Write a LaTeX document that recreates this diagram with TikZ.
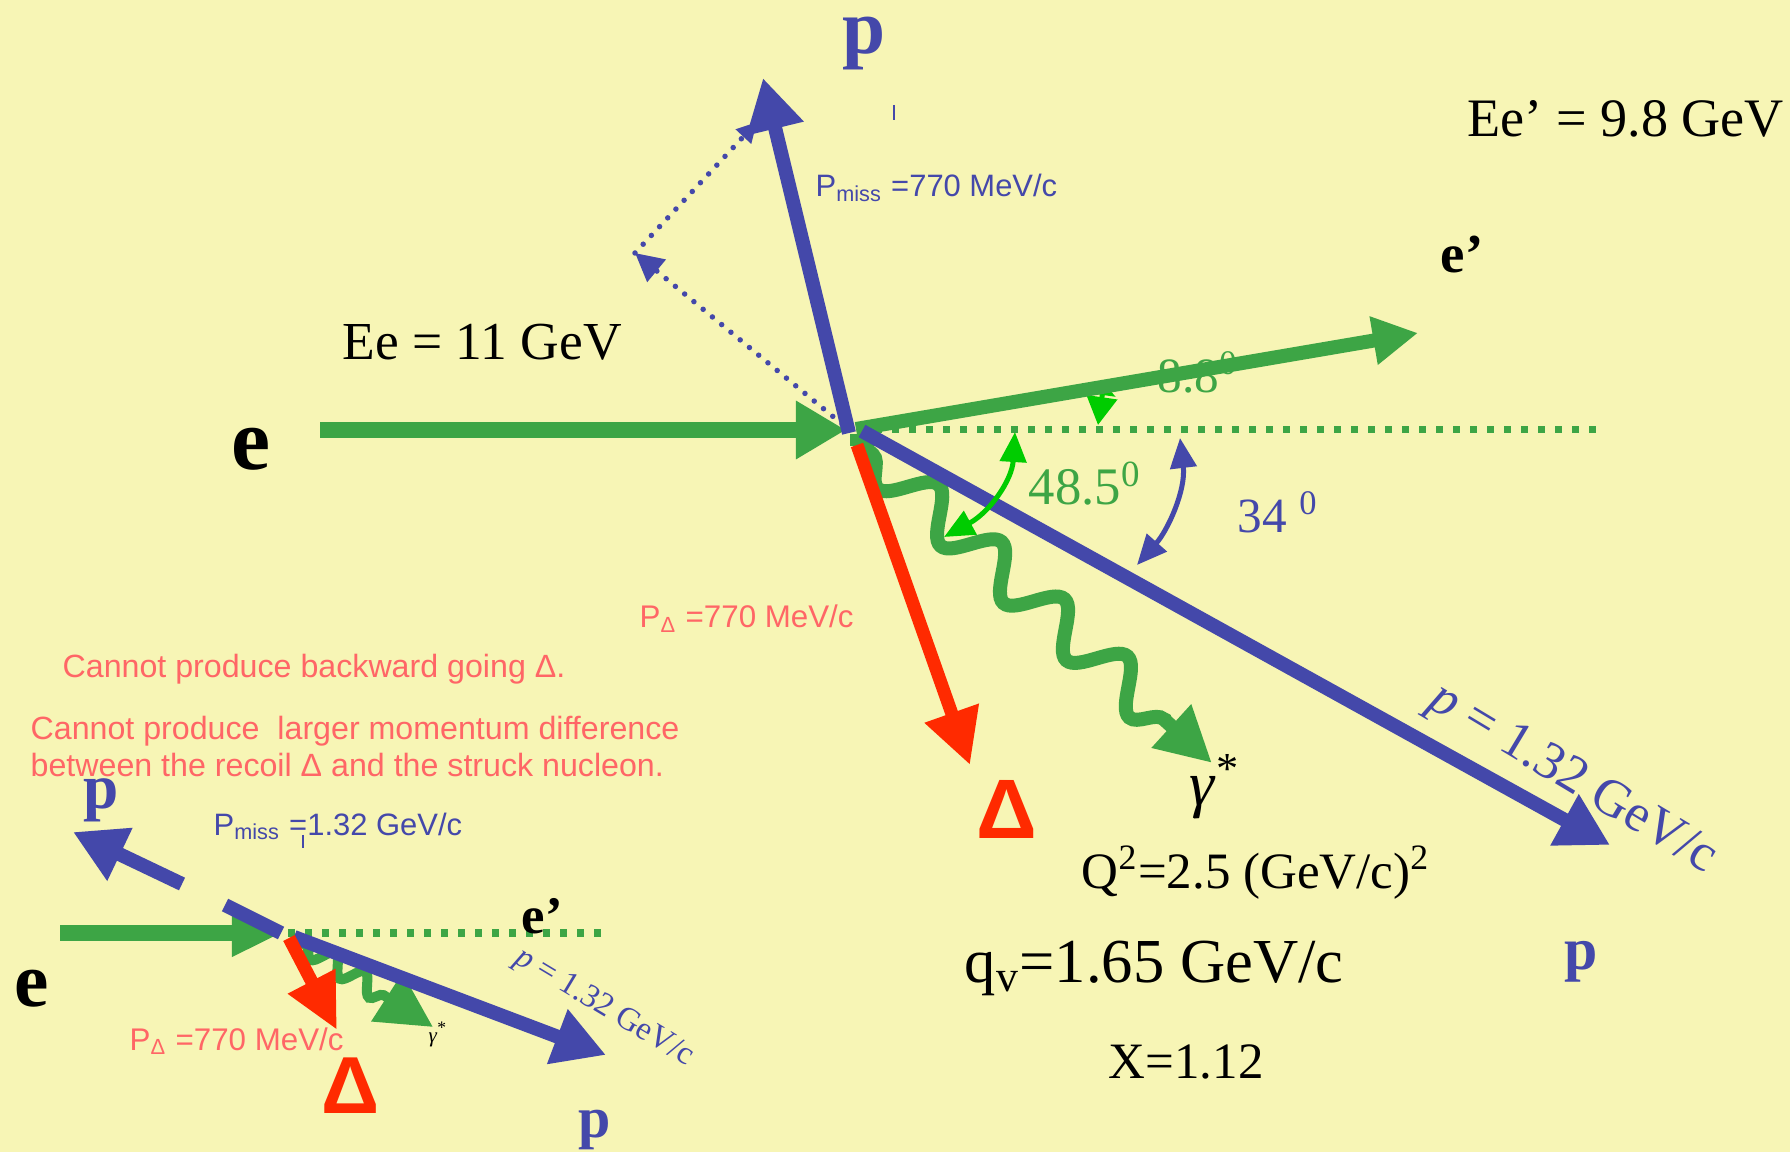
\documentclass[tikz,border=0pt]{standalone}
\usepackage{fontspec}
\setmainfont{Liberation Serif}
\setsansfont{Liberation Sans}
\definecolor{bgyel}{RGB}{247,245,181}
\definecolor{pblue}{RGB}{68,72,170}
\definecolor{egreen}{RGB}{61,165,69}
\definecolor{agreen}{RGB}{0,204,0}
\definecolor{dred}{RGB}{255,42,0}
\definecolor{txtred}{RGB}{255,102,102}
\usetikzlibrary{arrows.meta,decorations.pathmorphing}
\newcommand{\fsz}[1]{\fontsize{#1pt}{#1pt}\selectfont}

\begin{document}
\begin{tikzpicture}[
  x=0.01cm, y=-0.01cm,
  every node/.style={inner sep=0pt, anchor=base west},
  ebeam/.style={draw=egreen, line width=0.15cm, -{Triangle[length=0.5cm,width=0.55cm]}},
  eout/.style={draw=egreen, line width=0.14cm, -{Triangle[length=0.45cm,width=0.46cm]}},
  prot/.style={draw=pblue, line width=0.14cm, -{Triangle[length=0.52cm,width=0.55cm]}},
  delta/.style={draw=dred, line width=0.13cm, -{Triangle[length=0.55cm,width=0.54cm]}},
  photon/.style={draw=egreen, line width=0.14cm, decorate,
                 decoration={snake, amplitude=-0.22cm, segment length=0.85cm,
                             pre length=0.2cm, post length=0.5cm},
                 -{Triangle[length=0.55cm,width=0.55cm]}},
  refline/.style={draw=egreen, line width=0.07cm, dash pattern=on 0.07cm off 0.1cm},
  missline/.style={draw=pblue, line width=0.055cm, dash pattern=on 0pt off 0.12cm, line cap=round},
  anglearr/.style={line width=0.05cm, {Triangle[length=0.3cm,width=0.26cm]}-{Triangle[length=0.3cm,width=0.26cm]}},
  serif/.style={font=\fsz{#1}},
  bold/.style={font=\fsz{#1}\bfseries},
  note/.style={font=\sffamily\fsz{#1}},
]
  \useasboundingbox (0,0) rectangle (1790,1152);
  \fill[bgyel] (0,0) rectangle (1790,1152);

  % ---------------- main kinematics ----------------
  \coordinate (V) at (850,430);
  \coordinate (eS) at (320,430);
  \coordinate (eT) at (846,430);
  \coordinate (refS) at (858,430);
  \coordinate (refT) at (1604,430);
  \coordinate (epS) at (856,429);
  \coordinate (epT) at (1418,333);
  \coordinate (pS) at (849,433);
  \coordinate (pT) at (763,78);
  \coordinate (mA) at (842,424);
  \coordinate (mB) at (635,253);
  \coordinate (mC) at (757,122);
  \coordinate (dS) at (857,445);
  \coordinate (dT) at (970,765);
  \coordinate (qS) at (858,441);
  \coordinate (qT) at (1212,763);
  \coordinate (p2S) at (862,431);
  \coordinate (p2T) at (1610,845);

  % dotted lines
  \draw[refline] (refS) -- (refT);
  \draw[missline, -{Triangle[length=0.28cm,width=0.28cm]}] (mA) -- (mB);
  \draw[missline, -{Triangle[length=0.2cm,width=0.2cm]}] (mB) -- (mC);

  % virtual photon
  \draw[egreen, line width=0.12cm] (850,440) -- (878,440);
  \draw[photon] (qS) -- (qT);

  % beams
  \draw[ebeam] (eS) -- (eT);
  \node[serif=15.2] (Ee) at (342,360) {Ee = 11 GeV};
  \node[bold=25] (elbl) at (231,470) {e};
  \node[serif=14, text=egreen] (ang8) at (1157,393) {8.8\textsuperscript{0}};
  \draw[line width=0.05cm, agreen, {Triangle[length=0.12cm,width=0.26cm]}-{Triangle[length=0.28cm,width=0.3cm]}] (1104,383) -- (1098,425);
  \draw[eout] (epS) -- (epT);
  \node[bold=15.6] (eplbl) at (1440,273) {e’};
  \node[serif=15.4] (Eep) at (1467,137) {Ee’ = 9.8 GeV};

  % protons and delta
  \draw[prot] (pS) -- (pT);
  \node[bold=22, text=pblue] (ptop) at (842,54) {p};
  \draw[pblue, line width=0.015cm] (894,105) -- (894,120);
  \node[note=8.8, text=pblue] (pmiss) at (815,197) {P\textsubscript{miss} =770 MeV/c};
  \draw[prot] (p2S) -- (p2T);
  \node[serif=15, text=pblue, rotate=-31, anchor=center] (pval) at (1572,780) {\textit{p} = 1.32 GeV/c};
  \node[bold=17, text=pblue] (pbot) at (1564,969) {p};
  \draw[delta] (dS) -- (dT);
  \node[note=8.9, text=txtred] (pdel) at (639,628) {P\textsubscript{Δ} =770 MeV/c};
  \node[text=dred, font=\sffamily\bfseries\fsz{24}] (dlbl) at (976,838) {Δ};
  \node[serif=18] (glbl) at (1189,806) {\textit{γ}\textsuperscript{*}};

  % angles
  \draw[anglearr, agreen] (1015,432) .. controls (1012,480) and (990,512) .. (944,537);
  \node[serif=15, text=egreen] (ang48) at (1028,505) {48.5\textsuperscript{0}};
  \draw[anglearr, pblue] (1180,438) .. controls (1186,490) and (1168,530) .. (1137,565);
  \node[serif=14, text=pblue] (ang34) at (1237,533) {34 \textsuperscript{0}};

  % kinematic values
  \node[serif=14.5] (Q2) at (1081,888) {Q\textsuperscript{2}=2.5 (GeV/c)\textsuperscript{2}};
  \node[serif=17.8] (qv) at (964,982) {q\textsubscript{v}=1.65 GeV/c};
  \node[serif=14.5] (xb) at (1108,1078) {X=1.12};

  % ---------------- remarks ----------------
  \node[note=9.15, text=txtred] (rem1) at (62,678) {Cannot produce backward going Δ.};
  \node[note=9.15, text=txtred] (rem2) at (30,740) {Cannot produce\ \ larger momentum difference};
  \node[note=9.15, text=txtred] (rem3) at (30,777) {between the recoil Δ and the struck nucleon.};

  % ---------------- small sketch ----------------
  \coordinate (seS) at (60,933);
  \coordinate (seT) at (282,933);
  \coordinate (srefS) at (288,933);
  \coordinate (srefT) at (601,933);
  \coordinate (smA) at (281,933);
  \coordinate (smB) at (225,905);
  \coordinate (smC) at (182,884);
  \coordinate (smT) at (73,832);
  \coordinate (sp2S) at (294,937);
  \coordinate (sp2T) at (606,1055);
  \coordinate (sdS) at (289,938);
  \coordinate (sdT) at (337,1030);
  \coordinate (sqS) at (298,940);
  \coordinate (sqT) at (433,1027);

  \draw[refline] (srefS) -- (srefT);
  \draw[photon, line width=0.1cm, decoration={snake, amplitude=-0.1cm, segment length=0.35cm,
        pre length=0.1cm, post length=0.5cm}] (sqS) -- (sqT);
  \draw[ebeam, -{Triangle[length=0.5cm,width=0.44cm]}] (seS) -- (seT);
  \draw[pblue, line width=0.14cm] (smA) -- (smB);
  \draw[prot] (smC) -- (smT);
  \draw[prot] (sp2S) -- (sp2T);
  \draw[delta, -{Triangle[length=0.55cm,width=0.5cm]}] (sdS) -- (sdT);

  \node[bold=18, text=pblue] (sptop) at (83,808) {p};
  \node[note=8.8, text=pblue] (spmiss) at (213,835) {P\textsubscript{miss} =1.32 GeV/c};
  \draw[pblue, line width=0.015cm] (303,835) -- (303,848);
  \node[bold=15] (seplbl) at (521,933) {e’};
  \node[bold=22] (selbl) at (14,1006) {e};
  \node[note=8.9, text=txtred] (spdel) at (129,1050) {P\textsubscript{Δ} =770 MeV/c};
  \node[text=dred, font=\sffamily\bfseries\fsz{23}] (sdlbl) at (321,1113) {Δ};
  \node[serif=6] (sglbl) at (428,1042) {\textit{γ}\textsuperscript{*}};
  \node[serif=9.3, text=pblue, rotate=-31, anchor=center] (spval) at (604,1008) {\textit{p} = 1.32 GeV/c};
  \node[bold=16.5, text=pblue] (spbot) at (578,1137) {p};
\end{tikzpicture}
\end{document}
